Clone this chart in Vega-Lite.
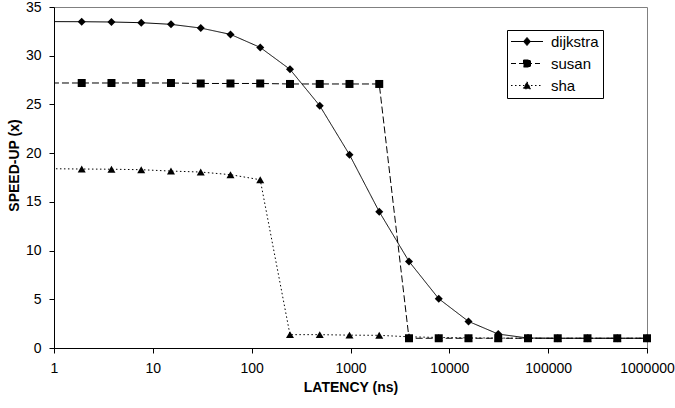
{
  "$schema": "https://vega.github.io/schema/vega-lite/v6.json",
  "autosize": {"type": "none"},
  "width": 593,
  "height": 341,
  "padding": {"left": 54, "top": 7, "right": 28, "bottom": 60},
  "background": "white",
  "config": {
    "font": "Liberation Sans",
    "view": {"stroke": "#808080", "strokeWidth": 1},
    "axis": {
      "grid": false,
      "domainColor": "black",
      "domainWidth": 1,
      "tickColor": "black",
      "tickSize": 5,
      "labelColor": "black",
      "labelFont": "Liberation Sans",
      "labelFontSize": 14,
      "titleFont": "Liberation Sans",
      "titleFontSize": 14,
      "titleFontWeight": "bold",
      "titleColor": "black"
    }
  },
  "data": {
    "values": [
      {"series": "dijkstra", "x": 0.9537, "y": 33.5},
      {"series": "dijkstra", "x": 1.9073, "y": 33.49},
      {"series": "dijkstra", "x": 3.8147, "y": 33.46},
      {"series": "dijkstra", "x": 7.6294, "y": 33.39},
      {"series": "dijkstra", "x": 15.2588, "y": 33.22},
      {"series": "dijkstra", "x": 30.5176, "y": 32.84},
      {"series": "dijkstra", "x": 61.0352, "y": 32.19},
      {"series": "dijkstra", "x": 122.0703, "y": 30.85},
      {"series": "dijkstra", "x": 244.1406, "y": 28.6},
      {"series": "dijkstra", "x": 488.2813, "y": 24.87},
      {"series": "dijkstra", "x": 976.5625, "y": 19.84},
      {"series": "dijkstra", "x": 1953.125, "y": 13.99},
      {"series": "dijkstra", "x": 3906.25, "y": 8.89},
      {"series": "dijkstra", "x": 7812.5, "y": 5.06},
      {"series": "dijkstra", "x": 15625, "y": 2.73},
      {"series": "dijkstra", "x": 31250, "y": 1.43},
      {"series": "dijkstra", "x": 62500, "y": 1.02},
      {"series": "dijkstra", "x": 125000, "y": 1.0},
      {"series": "dijkstra", "x": 250000, "y": 1.0},
      {"series": "dijkstra", "x": 500000, "y": 1.0},
      {"series": "dijkstra", "x": 1000000, "y": 1.0},
      {"series": "susan", "x": 0.9537, "y": 27.2},
      {"series": "susan", "x": 1.9073, "y": 27.2},
      {"series": "susan", "x": 3.8147, "y": 27.2},
      {"series": "susan", "x": 7.6294, "y": 27.2},
      {"series": "susan", "x": 15.2588, "y": 27.2},
      {"series": "susan", "x": 30.5176, "y": 27.15},
      {"series": "susan", "x": 61.0352, "y": 27.15},
      {"series": "susan", "x": 122.0703, "y": 27.15},
      {"series": "susan", "x": 244.1406, "y": 27.1},
      {"series": "susan", "x": 488.2813, "y": 27.1},
      {"series": "susan", "x": 976.5625, "y": 27.1},
      {"series": "susan", "x": 1953.125, "y": 27.1},
      {"series": "susan", "x": 3906.25, "y": 1.0},
      {"series": "susan", "x": 7812.5, "y": 1.0},
      {"series": "susan", "x": 15625, "y": 1.0},
      {"series": "susan", "x": 31250, "y": 1.0},
      {"series": "susan", "x": 62500, "y": 1.0},
      {"series": "susan", "x": 125000, "y": 1.0},
      {"series": "susan", "x": 250000, "y": 1.0},
      {"series": "susan", "x": 500000, "y": 1.0},
      {"series": "susan", "x": 1000000, "y": 1.0},
      {"series": "sha", "x": 0.9537, "y": 18.4},
      {"series": "sha", "x": 1.9073, "y": 18.37},
      {"series": "sha", "x": 3.8147, "y": 18.35},
      {"series": "sha", "x": 7.6294, "y": 18.3},
      {"series": "sha", "x": 15.2588, "y": 18.16},
      {"series": "sha", "x": 30.5176, "y": 18.06},
      {"series": "sha", "x": 61.0352, "y": 17.79},
      {"series": "sha", "x": 122.0703, "y": 17.27},
      {"series": "sha", "x": 244.1406, "y": 1.37},
      {"series": "sha", "x": 488.2813, "y": 1.37},
      {"series": "sha", "x": 976.5625, "y": 1.32},
      {"series": "sha", "x": 1953.125, "y": 1.3},
      {"series": "sha", "x": 3906.25, "y": 1.15},
      {"series": "sha", "x": 7812.5, "y": 1.08},
      {"series": "sha", "x": 15625, "y": 1.04},
      {"series": "sha", "x": 31250, "y": 1.02},
      {"series": "sha", "x": 62500, "y": 1.0},
      {"series": "sha", "x": 125000, "y": 1.0},
      {"series": "sha", "x": 250000, "y": 1.0},
      {"series": "sha", "x": 500000, "y": 1.0},
      {"series": "sha", "x": 1000000, "y": 1.0}
    ]
  },
  "encoding": {
    "x": {
      "field": "x",
      "type": "quantitative",
      "scale": {"type": "log", "domain": [1, 1000000], "nice": false},
      "axis": {
        "title": "LATENCY (ns)",
        "values": [1, 10, 100, 1000, 10000, 100000, 1000000],
        "format": "d",
        "labelPadding": 8,
        "titlePadding": 5,
        "labelFlush": false,
        "labelOverlap": false,
        "labelBound": false
      }
    },
    "y": {
      "field": "y",
      "type": "quantitative",
      "scale": {"domain": [0, 35], "nice": false, "zero": true},
      "axis": {
        "title": "SPEED-UP (x)",
        "values": [0, 5, 10, 15, 20, 25, 30, 35],
        "labelPadding": 8,
        "titlePadding": 4,
        "titleY": 158
      }
    }
  },
  "resolve": {
    "scale": {"shape": "independent", "strokeDash": "independent"},
    "legend": {"shape": "independent", "strokeDash": "independent"}
  },
  "layer": [
    {
      "mark": {"type": "line", "color": "black", "strokeWidth": 1, "clip": true},
      "encoding": {
        "detail": {"field": "series"},
        "strokeDash": {
          "field": "series",
          "type": "nominal",
          "scale": {"domain": ["dijkstra", "susan", "sha"], "range": [[1, 0], [7, 3], [1.5, 2.5]]},
          "legend": null
        }
      }
    },
    {
      "transform": [{"filter": "datum.x >= 1"}],
      "mark": {"type": "point", "filled": true, "color": "black", "opacity": 1, "size": 64},
      "encoding": {
        "shape": {
          "field": "series",
          "type": "nominal",
          "scale": {"domain": ["dijkstra", "susan", "sha"], "range": ["diamond", "square", "triangle-up"]},
          "legend": null
        }
      }
    },
    {
      "transform": [{"filter": "datum.y < 0"}],
      "mark": {"type": "point", "fill": "black", "stroke": "black", "strokeWidth": 1, "opacity": 1},
      "encoding": {
        "shape": {
          "field": "series",
          "type": "nominal",
          "scale": {
            "domain": ["dijkstra", "susan", "sha"],
            "range": [
              "M-1.5,0H4.9M1.7,-0.8L2.4,0L1.7,0.8L1,0Z",
              "M-1.5,0H4.9M1,-0.7H2.4V0.7H1Z",
              "M-1.5,0H4.9M1.7,-0.75L2.45,0.65H0.95Z"
            ]
          },
          "legend": {
            "title": null,
            "orient": "none",
            "legendX": 453,
            "legendY": 23,
            "padding": 4,
            "strokeColor": "black",
            "fillColor": "white",
            "labelFont": "Liberation Sans",
            "labelFontSize": 15,
            "labelColor": "black",
            "labelOffset": 25,
            "rowPadding": 6,
            "symbolSize": 100,
            "symbolStrokeWidth": 1,
            "encode": {
              "symbols": {
                "stroke": {"value": "black"},
                "strokeWidth": {"value": 1},
                "fill": {"value": "black"},
                "opacity": {"value": 1}
              }
            }
          }
        },
        "strokeDash": {
          "field": "series",
          "type": "nominal",
          "scale": {"domain": ["dijkstra", "susan", "sha"], "range": [[1, 0], [5, 3], [1.5, 2.5]]},
          "legend": {
            "title": null,
            "orient": "none",
            "legendX": 453,
            "legendY": 23,
            "padding": 4,
            "strokeColor": "black",
            "fillColor": "white",
            "labelFont": "Liberation Sans",
            "labelFontSize": 15,
            "labelColor": "black",
            "labelOffset": 25,
            "rowPadding": 6,
            "symbolSize": 100,
            "symbolStrokeWidth": 1,
            "encode": {
              "symbols": {
                "stroke": {"value": "black"},
                "strokeWidth": {"value": 1},
                "fill": {"value": "black"},
                "opacity": {"value": 1}
              }
            }
          }
        }
      }
    }
  ]
}
